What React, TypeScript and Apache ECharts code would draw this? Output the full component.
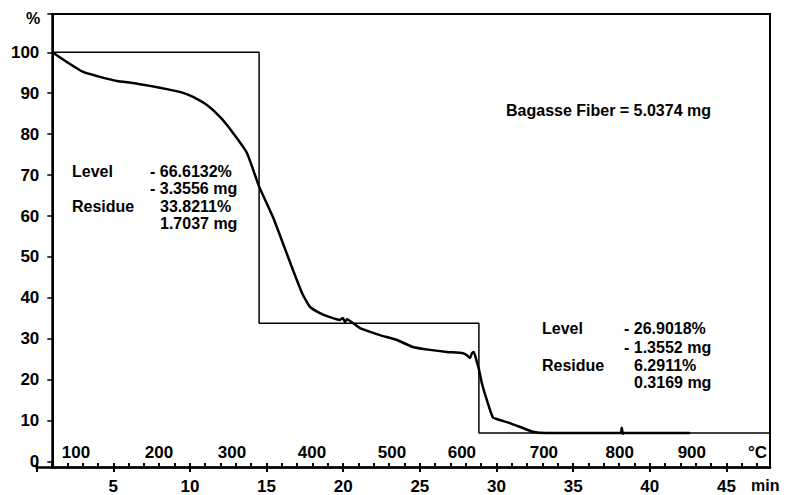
import React, { useEffect, useRef } from "react";
import * as echarts from "echarts";

// ---- axis extents / tick values ----
const TIME_START = 0; // min at left end of time axis
const TIME_END = 47.84; // min at right border
const TIME_AT_YAXIS = 1.02; // min where the % axis stands
const PCT_MIN = -1.44;
const PCT_MAX = 109.36;

const TIME_LABELS = [5, 10, 15, 20, 25, 30, 35, 40, 45];
const TIME_MAJOR_TICKS = [0, 5, 10, 15, 20, 25, 30, 35, 40, 45];
const PCT_LABELS = [0, 10, 20, 30, 40, 50, 60, 70, 80, 90, 100];
const PCT_TICKS = [0, 10, 20, 30, 40, 50, 60, 70, 80, 90, 100, PCT_MAX];
// temperature labels and the time (min) at which each temperature is reached
const TEMP_LABELS = [100, 200, 300, 400, 500, 600, 700, 800, 900];
const TEMP_TIMES = [2.57, 7.98, 12.74, 17.96, 23.18, 27.74, 33.09, 38.04, 42.74];

// ---- TG curve (time in min, mass in %) ----
const TG_TIME = [
  1.02, 1.98, 3.03, 4.13, 5.24, 6.29, 7.39, 8.5, 9.55, 10.2, 11.11, 11.96, 12.81,
  13.72, 14.5, 15.42, 16.07, 16.72, 17.31, 17.83, 18.48, 19.13, 19.78, 19.98,
  20.11, 20.24, 21.09, 22.39, 23.5, 24.54, 25.65, 26.76, 27.81, 28.07, 28.26,
  28.4, 28.52, 28.72, 28.85, 29.04, 29.37, 29.76, 30.09, 30.87, 31.72, 32.37,
  33.2, 38.1, 38.17, 38.23, 38.3, 42.6,
];
const TG_MASS = [
  100, 97.6, 95.2, 94.0, 93.0, 92.5, 91.8, 91.0, 90.1, 89.1, 87.1, 84.2, 80.3,
  75.4, 67.3, 59.7, 53.3, 46.8, 41.2, 37.8, 36.3, 35.3, 34.6, 35.1, 34.1, 34.8,
  32.6, 30.9, 29.7, 28.0, 27.3, 26.8, 26.5, 26.0, 25.3, 26.5, 26.8, 24.3, 22.6,
  19.2, 15.0, 10.8, 10.3, 9.4, 8.2, 7.3, 7.0, 7.0, 8.3, 6.8, 7.0, 7.0,
];

// ---- step (level) line ----
const STEP_TIME = [1.02, 14.51, 14.51, 28.85, 28.85, 47.84];
const STEP_MASS = [100, 100, 33.8, 33.8, 7.0, 7.0];

// ---- annotation texts ----
const TOTAL_TEXT = "Bagasse Fiber = 5.0374 mg";
const STEP1_TEXT = ["Level", "- 66.6132%", "- 3.3556 mg", "Residue", "33.8211%", "1.7037 mg"];
const STEP2_TEXT = ["Level", "- 26.9018%", "- 1.3552 mg", "Residue", "6.2911%", "0.3169 mg"];

const FONT = '"Liberation Sans", Arial, Helvetica, sans-serif';

function txt(text: string, x: number, y: number, size = 16) {
  return {
    type: "text",
    x,
    y,
    silent: true,
    style: {
      text,
      fill: "#000",
      fontFamily: FONT,
      fontWeight: "bold",
      fontSize: size,
      align: "left",
      verticalAlign: "middle",
    },
  };
}

export default function App() {
  const ref = useRef<HTMLDivElement>(null);

  useEffect(() => {
    document.body.style.margin = "0";
    const chart = echarts.init(ref.current!, null, { renderer: "svg" });

    const tg = TG_TIME.map((t, i) => [t, TG_MASS[i]]);
    const step = STEP_TIME.map((t, i) => [t, STEP_MASS[i]]);

    const labelStyle = {
      color: "#000",
      fontFamily: FONT,
      fontWeight: "bold",
      fontSize: 17,
    };

    const tempFormatter = (v: number) => {
      let best = 0;
      TEMP_TIMES.forEach((t, i) => {
        if (Math.abs(t - v) < Math.abs(TEMP_TIMES[best] - v)) best = i;
      });
      return String(TEMP_LABELS[best]);
    };

    const option: any = {
      animation: false,
      backgroundColor: "#fff",
      textStyle: { fontFamily: FONT },
      grid: [
        {
          left: 52.3,
          right: 17,
          top: 14,
          bottom: 27.5,
          show: true,
          borderColor: "#000",
          borderWidth: 2,
          backgroundColor: "transparent",
        },
        {
          left: 36.6,
          right: 17,
          top: 14,
          bottom: 27.5,
          show: false,
        },
      ],
      xAxis: [
        {
          type: "value",
          gridIndex: 0,
          min: TIME_AT_YAXIS,
          max: TIME_END,
          show: false,
        },
        {
          type: "value",
          gridIndex: 1,
          position: "bottom",
          min: TIME_START,
          max: TIME_END,
          interval: 5,
          axisLine: { show: true, lineStyle: { color: "#000", width: 2.5 } },
          axisTick: {
            show: true,
            inside: false,
            length: 5,
            customValues: TIME_MAJOR_TICKS,
            lineStyle: { color: "#000", width: 2 },
          },
          axisLabel: { ...labelStyle, margin: 11, customValues: TIME_LABELS },
          splitLine: { show: false },
        },
        {
          type: "value",
          gridIndex: 1,
          position: "bottom",
          min: TIME_START,
          max: TIME_END,
          interval: 1,
          axisLine: { show: false },
          axisTick: {
            show: true,
            inside: true,
            length: 4,
            lineStyle: { color: "#000", width: 2 },
          },
          axisLabel: { show: false },
          splitLine: { show: false },
        },
        {
          // temperature labels inside the plot, placed at the time each temperature is reached
          type: "value",
          gridIndex: 0,
          position: "bottom",
          min: TIME_AT_YAXIS,
          max: TIME_END,
          axisLine: { show: false },
          axisTick: { show: false },
          axisLabel: {
            ...labelStyle,
            inside: true,
            margin: 7,
            customValues: TEMP_TIMES,
            formatter: tempFormatter,
          },
          splitLine: { show: false },
        },
      ],
      yAxis: [
        {
          type: "value",
          gridIndex: 0,
          min: PCT_MIN,
          max: PCT_MAX,
          axisLine: { show: true, lineStyle: { color: "#000", width: 2 } },
          axisTick: {
            show: true,
            inside: false,
            length: 5,
            customValues: PCT_TICKS,
            lineStyle: { color: "#000", width: 1.5 },
          },
          axisLabel: { ...labelStyle, margin: 13, customValues: PCT_LABELS },
          splitLine: { show: false },
        },
        {
          type: "value",
          gridIndex: 1,
          min: 0,
          max: 1,
          show: false,
        },
      ],
      series: [
        {
          name: "Level",
          type: "line",
          xAxisIndex: 0,
          yAxisIndex: 0,
          data: step,
          showSymbol: false,
          silent: true,
          lineStyle: { color: "#000", width: 1.5 },
        },
        {
          name: "TG",
          type: "line",
          xAxisIndex: 0,
          yAxisIndex: 0,
          data: tg,
          showSymbol: false,
          silent: true,
          smooth: 0.15,
          lineStyle: { color: "#000", width: 2.5 },
        },
        {
          name: "axis-holder",
          type: "line",
          xAxisIndex: 1,
          yAxisIndex: 1,
          data: [],
        },
      ],
      graphic: [
        txt("%", 26, 18, 16),
        txt("°C", 748, 452, 17),
        txt("min", 751, 485, 16),
        txt(TOTAL_TEXT, 506, 110),
        txt(STEP1_TEXT[0], 72, 171),
        txt(STEP1_TEXT[1], 150, 171),
        txt(STEP1_TEXT[2], 150, 188),
        txt(STEP1_TEXT[3], 72, 206),
        txt(STEP1_TEXT[4], 160, 206),
        txt(STEP1_TEXT[5], 160, 223),
        txt(STEP2_TEXT[0], 542, 328),
        txt(STEP2_TEXT[1], 624, 328),
        txt(STEP2_TEXT[2], 624, 347),
        txt(STEP2_TEXT[3], 542, 365),
        txt(STEP2_TEXT[4], 634, 365),
        txt(STEP2_TEXT[5], 634, 382),
      ],
    };

    chart.setOption(option);
    return () => chart.dispose();
  }, []);

  return (
    <div
      ref={ref}
      style={{ position: "fixed", left: 0, top: 0, width: 787, height: 495 }}
    />
  );
}
